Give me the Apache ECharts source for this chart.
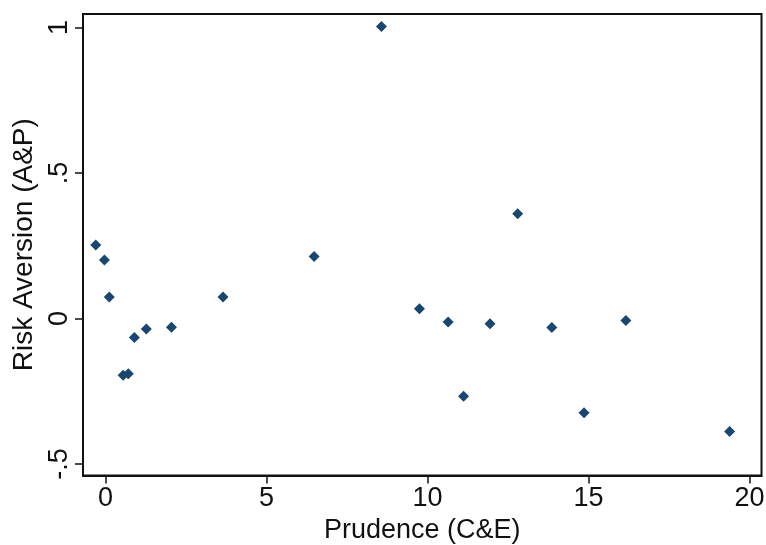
<!DOCTYPE html>
<html>
<head>
<meta charset="utf-8">
<script src="https://cdn.jsdelivr.net/npm/echarts@6/dist/echarts.min.js"></script>
<style>html,body{margin:0;padding:0;background:#fff}#c{width:766px;height:545px}</style>
</head>
<body>
<div id="c"></div>
<script>
var prudence = [-0.30, -0.03, 0.12, 0.55, 0.71, 0.90, 1.27, 2.05, 3.65, 6.48, 8.57, 9.75, 10.64, 11.12, 11.94, 12.80, 13.86, 14.86, 16.16, 19.38];
var riskAversion = [0.252, 0.201, 0.074, -0.195, -0.190, -0.065, -0.036, -0.030, 0.074, 0.213, 1.003, 0.033, -0.012, -0.267, -0.018, 0.360, -0.031, -0.324, -0.007, -0.388];
var xTicks = [0, 5, 10, 15, 20];
var yTicks = [-0.5, 0, 0.5, 1];
var xTitle = 'Prudence (C&E)';
var yTitle = 'Risk Aversion (A&P)';

function stataFmt(v) {
  var s = String(Math.round(v * 100) / 100);
  s = s.replace(/^0\./, '.').replace(/^-0\./, '-.');
  return s;
}

var points = prudence.map(function (x, i) { return [x, riskAversion[i]]; });
var font = 'Liberation Sans, Arial, sans-serif';
var chart = echarts.init(document.getElementById('c'), null, { renderer: 'canvas' });
chart.setOption({
  animation: false,
  backgroundColor: '#fff',
  grid: { left: 83, right: 4.5, top: 14, bottom: 69.5, containLabel: false, outerBoundsMode: 'none', show: true, borderColor: '#111', borderWidth: 2, backgroundColor: '#fff' },
  xAxis: {
    type: 'value', min: -0.696, max: 20.37,
    splitLine: { show: false },
    axisLine: { show: true, onZero: false, lineStyle: { color: '#111', width: 2 } },
    axisTick: { show: true, length: 8, customValues: xTicks, lineStyle: { color: '#111', width: 1.5 } },
    axisLabel: { customValues: xTicks, formatter: stataFmt, color: '#111', fontSize: 27, fontFamily: font, margin: 10 },
    name: xTitle, nameLocation: 'middle', nameGap: 37,
    nameTextStyle: { color: '#111', fontSize: 27, fontFamily: font }
  },
  yAxis: {
    type: 'value', min: -0.5395, max: 1.046,
    splitLine: { show: false },
    axisLine: { show: true, onZero: false, lineStyle: { color: '#111', width: 2 } },
    axisTick: { show: true, length: 8, customValues: yTicks, lineStyle: { color: '#111', width: 1.5 } },
    axisLabel: { customValues: yTicks, formatter: stataFmt, rotate: 90, color: '#111', fontSize: 27, fontFamily: font, margin: 10 },
    name: yTitle, nameLocation: 'middle', nameGap: 41,
    nameTextStyle: { color: '#111', fontSize: 28, fontFamily: font }
  },
  series: [{
    type: 'scatter',
    data: points,
    symbol: 'diamond',
    symbolSize: 11,
    itemStyle: { color: '#1a476f', opacity: 1 }
  }]
});
</script>
</body>
</html>
